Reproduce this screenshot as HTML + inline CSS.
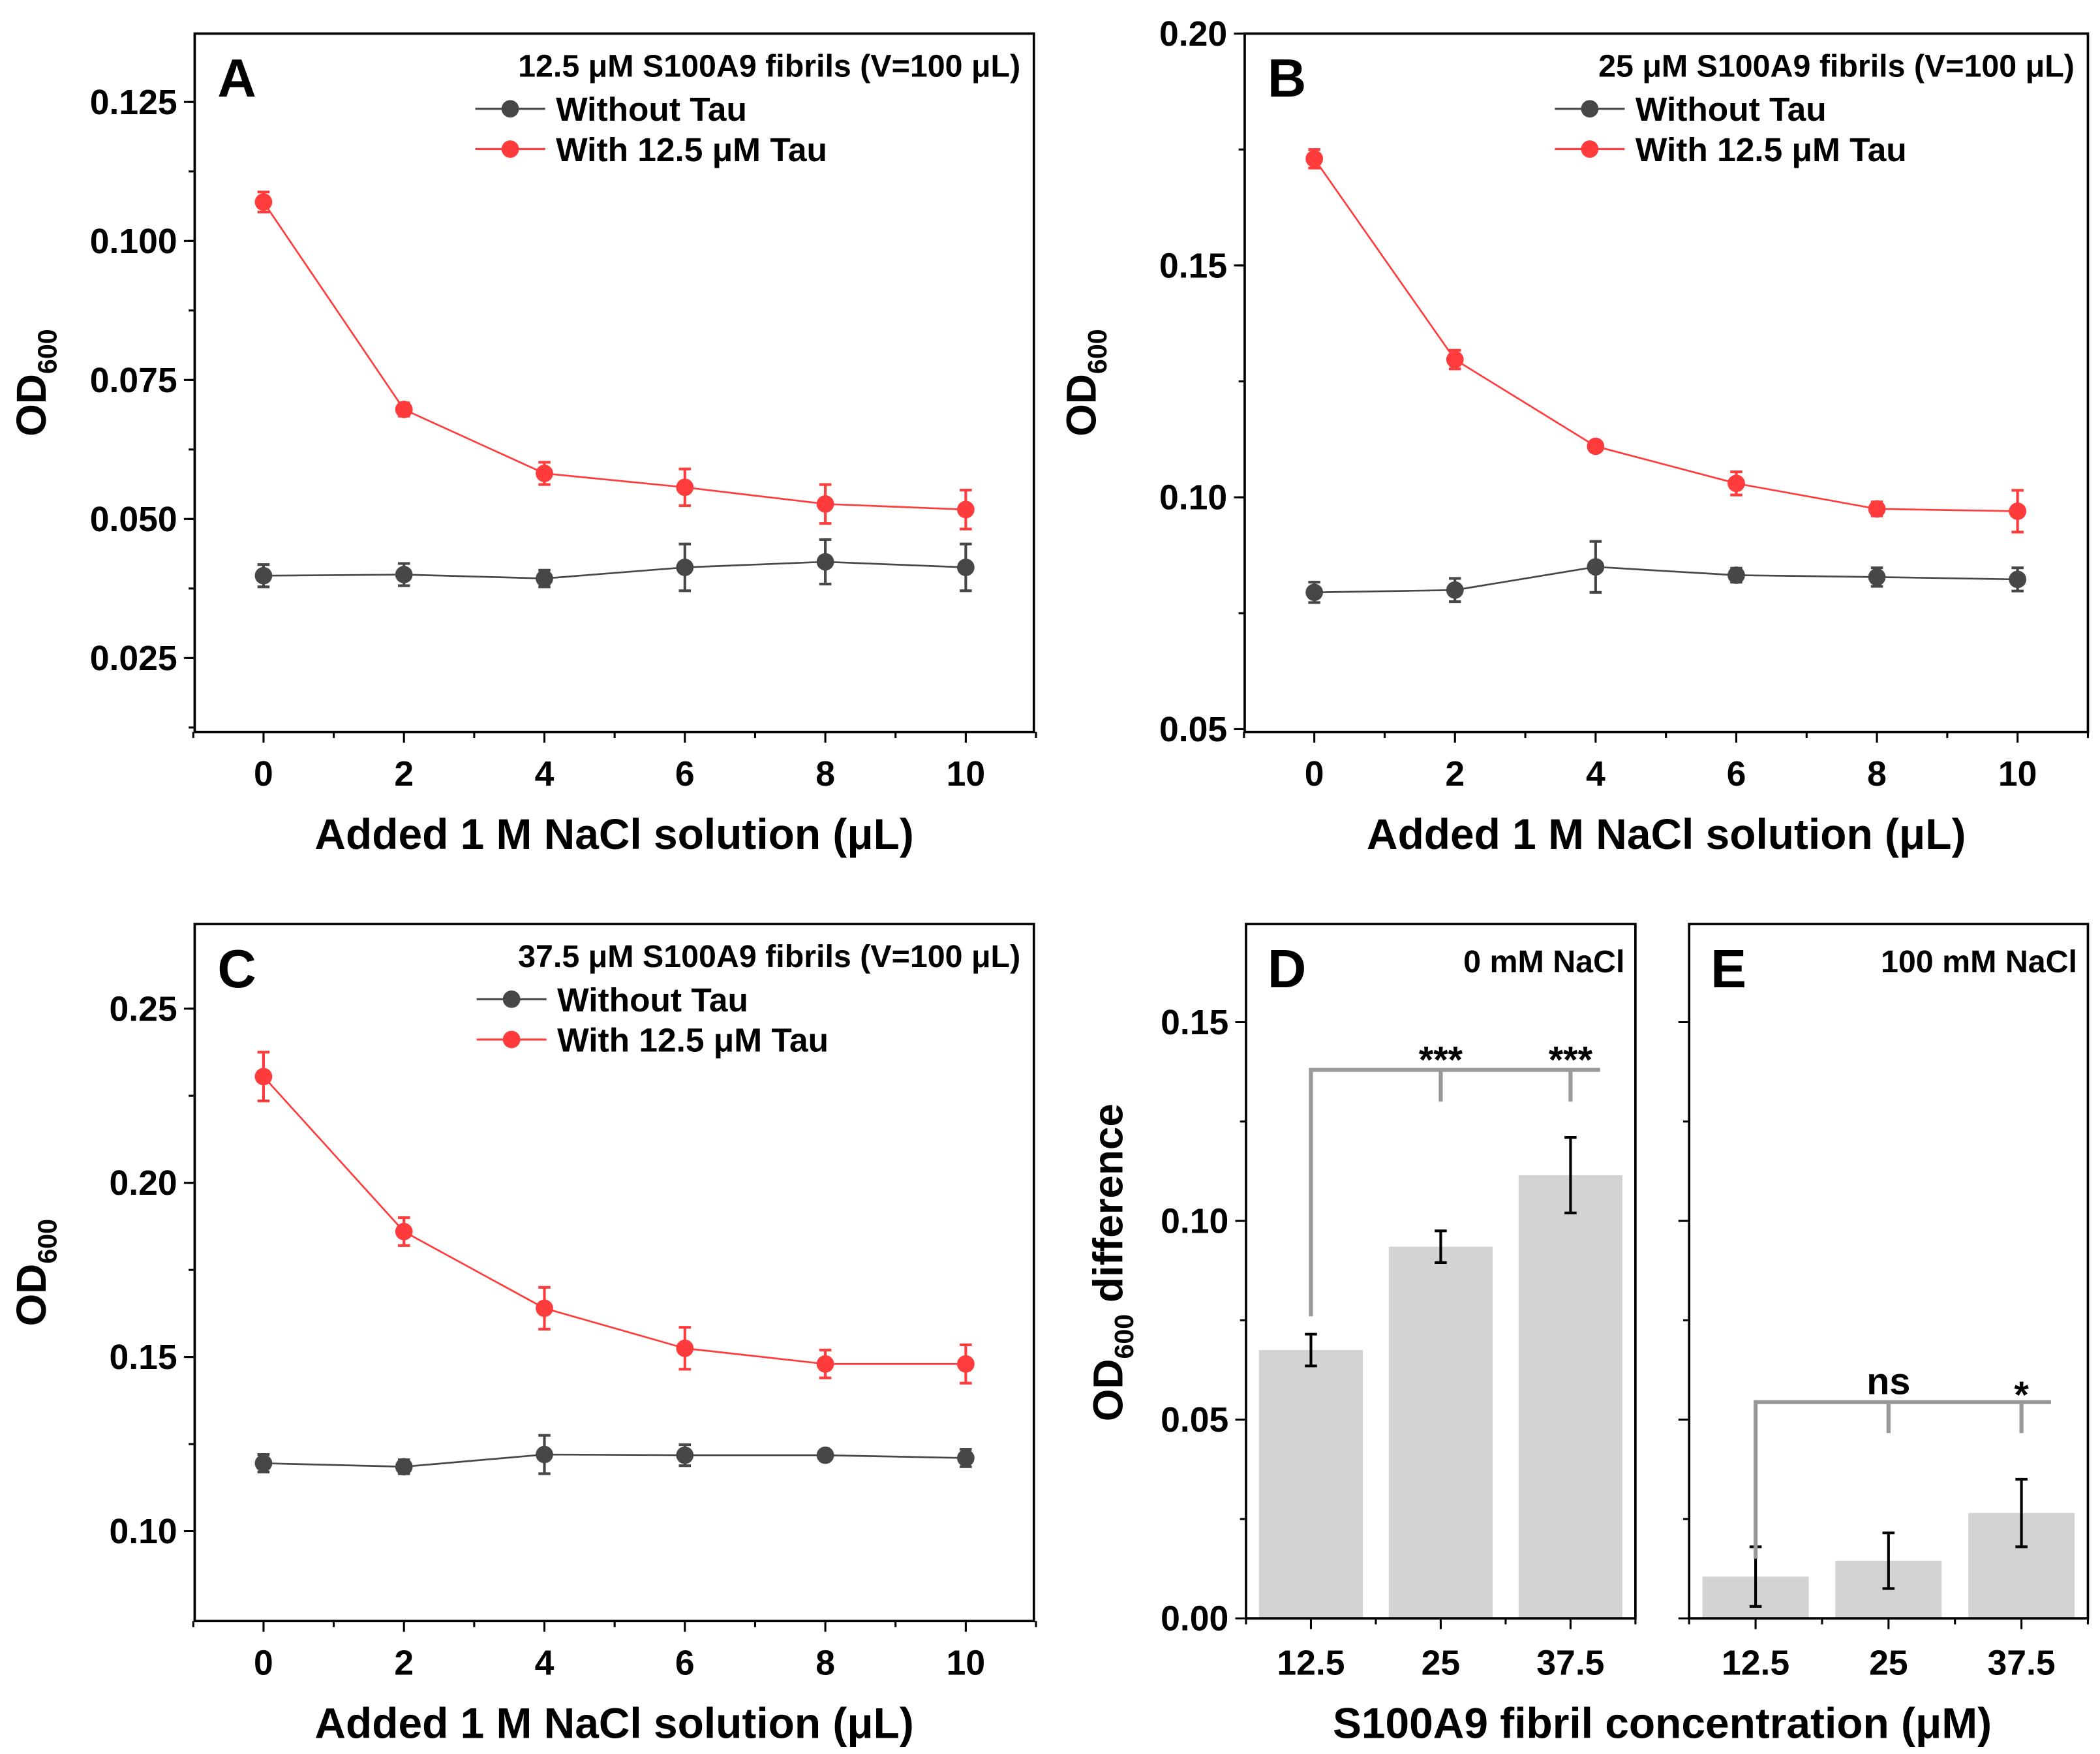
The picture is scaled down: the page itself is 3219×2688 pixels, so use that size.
<!DOCTYPE html>
<html><head><meta charset="utf-8"><style>
html,body{margin:0;padding:0;background:#fff}
svg{display:block}
text{font-family:"Liberation Sans Narrow","Liberation Sans",sans-serif;font-weight:bold;fill:#000}
</style></head><body>
<svg id="fig" xmlns="http://www.w3.org/2000/svg" width="3219" height="2688" viewBox="0 0 1564 1306" preserveAspectRatio="none"></svg>
<script>
// ---- data ----
const xVals = [0, 2, 4, 6, 8, 10];
const aRed = [0.107, 0.0697, 0.0582, 0.0557, 0.0527, 0.0517];
const aRedErr = [0.0018, 0.0012, 0.002, 0.0033, 0.0035, 0.0035];
const aBlack = [0.0398, 0.0400, 0.0393, 0.0413, 0.0423, 0.0413];
const aBlackErr = [0.002, 0.002, 0.0015, 0.0042, 0.004, 0.0042];
const bRed = [0.173, 0.1297, 0.111, 0.103, 0.0975, 0.097];
const bRedErr = [0.002, 0.002, 0.001, 0.0025, 0.0015, 0.0045];
const bBlack = [0.0795, 0.080, 0.085, 0.0832, 0.0828, 0.0823];
const bBlackErr = [0.0022, 0.0025, 0.0055, 0.0015, 0.002, 0.0025];
const cRed = [0.2305, 0.186, 0.164, 0.1525, 0.148, 0.148];
const cRedErr = [0.007, 0.004, 0.006, 0.006, 0.004, 0.0055];
const cBlack = [0.1195, 0.1185, 0.122, 0.1218, 0.1218, 0.121];
const cBlackErr = [0.0025, 0.002, 0.0055, 0.003, 0.001, 0.0025];
const barCats = ["12.5", "25", "37.5"];
const dVals = [0.0675, 0.0935, 0.1115];
const dErr = [0.004, 0.004, 0.0095];
const eVals = [0.0105, 0.0145, 0.0265];
const eErr = [0.0075, 0.007, 0.0085];
const aTicks = ["0.025", "0.050", "0.075", "0.100", "0.125"];
const bTicks = ["0.05", "0.10", "0.15", "0.20"];
const cTicks = ["0.10", "0.15", "0.20", "0.25"];
const dTicks = ["0.00", "0.05", "0.10", "0.15"];
const xTicks = ["0", "2", "4", "6", "8", "10"];

const NS = "http://www.w3.org/2000/svg";
const svg = document.getElementById('fig');
function mk(tag, attrs, parent) {
  const e = document.createElementNS(NS, tag);
  for (const k in attrs) e.setAttribute(k, attrs[k]);
  (parent || svg).appendChild(e);
  return e;
}
function txt(s, x, y, size, anchor, parent, name) {
  const t = mk('text', {x: x, y: y, 'font-size': size, 'text-anchor': anchor || 'middle'}, parent);
  t.textContent = s;
  
  
  return t;
}

function linePanel(o) {
  const g = mk('g', {});
  
  
  const X = v => o.x0 + (v - o.xmin) / (o.xmax - o.xmin) * (o.x1 - o.x0);
  const Y = v => o.y1 - (v - o.ymin) / (o.ymax - o.ymin) * (o.y1 - o.y0);
  o.yTicks.forEach(s => {
    const v = parseFloat(s), y = Y(v);
    mk('line', {x1: o.x0 - 8, x2: o.x0, y1: y, y2: y, stroke: '#000', 'stroke-width': 1.5}, g);
    txt(s, o.x0 - 13, y + 9, 26, 'end', g, 'y-tick-label');
  });
  for (let v = o.yminor0; v < o.ymax; v += o.yminorStep) {
    const y = Y(v);
    if (y < o.y0 || y > o.y1) continue;
    mk('line', {x1: o.x0 - 4.5, x2: o.x0, y1: y, y2: y, stroke: '#000', 'stroke-width': 1.5}, g);
  }
  for (let v = -1; v <= 11; v++) {
    const x = X(v);
    const major = v >= 0 && v <= 10 && v % 2 === 0;
    mk('line', {x1: x, x2: x, y1: o.y1, y2: o.y1 + (major ? 8 : 4.5), stroke: '#000', 'stroke-width': 1.5}, g);
  }
  xTicks.forEach(s => txt(s, X(parseFloat(s)), o.y1 + 40, 26, 'middle', g, 'x-tick-label'));
  [[o.black, o.blackErr, '#474747', 'without-tau'], [o.red, o.redErr, '#ff3b3b', 'with-tau']].forEach(([vals, errs, col, nm]) => {
    const pts = vals.map((v, i) => X(xVals[i]) + ',' + Y(v)).join(' ');
    const pl = mk('polyline', {points: pts, fill: 'none', stroke: col, 'stroke-width': 1.3}, g);
    
    
    vals.forEach((v, i) => {
      const x = X(xVals[i]);
      const e1 = Y(v + errs[i]), e2 = Y(v - errs[i]);
      mk('path', {d: `M${x},${e1}V${e2}M${x - 4.5},${e1}H${x + 4.5}M${x - 4.5},${e2}H${x + 4.5}`, stroke: col, 'stroke-width': 2, fill: 'none'}, g);
      const c = mk('circle', {cx: x, cy: Y(v), r: 6.5, fill: col}, g);
      
      
    });
  });
  mk('rect', {x: o.x0, y: o.y0, width: o.x1 - o.x0, height: o.y1 - o.y0, fill: 'none', stroke: '#000', 'stroke-width': 1.8}, g);
  txt(o.letter, o.x0 + 17, o.y0 + 47, 40, 'start', g, 'panel-letter');
  const lx = o.x0 + o.legX;
  txt(o.legTitle, o.x1 - 10, o.y0 + 32, 23.5, 'end', g, 'legend-title');
  [['Without Tau', '#474747', 64], ['With 12.5 μM Tau', '#ff3b3b', 94]].forEach(([s, col, dy]) => {
    const y = o.y0 + dy - 8;
    mk('line', {x1: lx, x2: lx + 52, y1: y, y2: y, stroke: col, 'stroke-width': 1.5}, g);
    mk('circle', {cx: lx + 26, cy: y, r: 6.5, fill: col}, g);
    txt(s, lx + 60, o.y0 + dy + 1, 25, 'start', g, 'legend-entry');
  });
  txt('Added 1 M NaCl solution (μL)', (o.x0 + o.x1) / 2, o.y1 + 87, 32, 'middle', g, 'x-axis-title');
  const yt = mk('text', {x: 0, y: 0, 'font-size': 31, 'text-anchor': 'middle', transform: `translate(${o.x0 - 111},${(o.y0 + o.y1) / 2}) rotate(-90)`}, g);
  
  
  yt.innerHTML = 'OD<tspan font-size="20" dy="8">600</tspan>';
}

linePanel({name: 'panel-a', letter: 'A', x0: 145, x1: 770, y0: 25, y1: 545, xmin: -0.98, xmax: 10.97, ymin: 0.0117, ymax: 0.1373,
  yTicks: aTicks, yminor0: 0.0125, yminorStep: 0.0125, red: aRed, redErr: aRedErr, black: aBlack, blackErr: aBlackErr,
  legTitle: '12.5 μM S100A9 fibrils (V=100 μL)', legX: 209});
linePanel({name: 'panel-b', letter: 'B', x0: 927, x1: 1555, y0: 25, y1: 545, xmin: -0.99, xmax: 11.0, ymin: 0.0494, ymax: 0.2,
  yTicks: bTicks, yminor0: 0.075, yminorStep: 0.025, red: bRed, redErr: bRedErr, black: bBlack, blackErr: bBlackErr,
  legTitle: '25 μM S100A9 fibrils (V=100 μL)', legX: 231});
linePanel({name: 'panel-c', letter: 'C', x0: 145, x1: 770, y0: 688, y1: 1207, xmin: -0.98, xmax: 10.97, ymin: 0.0742, ymax: 0.2743,
  yTicks: cTicks, yminor0: 0.125, yminorStep: 0.025, red: cRed, redErr: cRedErr, black: cBlack, blackErr: cBlackErr,
  legTitle: '37.5 μM S100A9 fibrils (V=100 μL)', legX: 210});

function barPanel(o) {
  const g = mk('g', {});
  
  
  const step = (o.x1 - o.x0) / 3;
  const X = i => o.x0 + step * (i + 0.5);
  const Y = v => o.y1 - v / o.ymax * (o.y1 - o.y0);
  [0, 0.05, 0.1, 0.15].forEach((v, i) => {
    mk('line', {x1: o.x0 - 8, x2: o.x0, y1: Y(v), y2: Y(v), stroke: '#000', 'stroke-width': 1.5}, g);
    if (o.labels) txt(dTicks[i], o.x0 - 13, Y(v) + 9, 26, 'end', g, 'y-tick-label');
  });
  [0.025, 0.075, 0.125].forEach(v => mk('line', {x1: o.x0 - 4.5, x2: o.x0, y1: Y(v), y2: Y(v), stroke: '#000', 'stroke-width': 1.5}, g));
  for (let k = 0; k <= 3; k++) {
    const x = o.x0 + step * k;
    mk('line', {x1: x, x2: x, y1: o.y1, y2: o.y1 + 4.5, stroke: '#000', 'stroke-width': 1.5}, g);
  }
  o.vals.forEach((v, i) => {
    const x = X(i), bw = step * 0.8;
    const r = mk('rect', {x: x - bw / 2, y: Y(v), width: bw, height: Y(0) - Y(v), fill: '#d3d3d3'}, g);
    
    
    const e1 = Y(v + o.errs[i]), e2 = Y(v - o.errs[i]);
    mk('path', {d: `M${x},${e1}V${e2}M${x - 4.5},${e1}H${x + 4.5}M${x - 4.5},${e2}H${x + 4.5}`, stroke: '#000', 'stroke-width': 2, fill: 'none'}, g);
    mk('line', {x1: x, x2: x, y1: o.y1, y2: o.y1 + 8, stroke: '#000', 'stroke-width': 1.5}, g);
    txt(barCats[i], x, o.y1 + 42, 26, 'middle', g, 'x-tick-label');
  });
  const by = Y(o.bracket), bx0 = X(0), bx1 = X(2) + 22;
  mk('path', {d: `M${bx0},${Y(o.leftDrop)}V${by}H${bx1}M${X(1)},${by}V${Y(o.drop)}M${X(2)},${by}V${Y(o.drop)}`, stroke: '#999', 'stroke-width': 3, fill: 'none'}, g);
  const isNs = o.sig[0] === 'ns';
  txt(o.sig[0], X(1), isNs ? by - 6 : by + 2, 28, 'middle', g, 'significance-label');
  txt(o.sig[1], X(2), isNs ? by + 4 : by + 2, 28, 'middle', g, 'significance-label');
  mk('rect', {x: o.x0, y: o.y0, width: o.x1 - o.x0, height: o.y1 - o.y0, fill: 'none', stroke: '#000', 'stroke-width': 1.8}, g);
  txt(o.letter, o.x0 + 16, o.y0 + 47, 40, 'start', g, 'panel-letter');
  txt(o.title, o.x1 - 8, o.y0 + 36, 23.5, 'end', g, 'panel-title');
}
barPanel({name: 'panel-d', letter: 'D', title: '0 mM NaCl', x0: 928, x1: 1218, y0: 688, y1: 1205, ymax: 0.1747, vals: dVals, errs: dErr,
  labels: true, bracket: 0.138, drop: 0.130, leftDrop: 0.076, sig: ['***', '***']});
barPanel({name: 'panel-e', letter: 'E', title: '100 mM NaCl', x0: 1258, x1: 1555, y0: 688, y1: 1205, ymax: 0.1747, vals: eVals, errs: eErr,
  labels: false, bracket: 0.0544, drop: 0.0466, leftDrop: 0.015, sig: ['ns', '*']});
txt('S100A9 fibril concentration (μM)', 1238, 1294, 32, 'middle', svg, 'x-axis-title');
const dt = mk('text', {x: 0, y: 0, 'font-size': 31, 'text-anchor': 'middle', transform: 'translate(836,940) rotate(-90)'});


dt.innerHTML = 'OD<tspan font-size="20" dy="8">600</tspan><tspan dy="-8"> difference</tspan>';
</script>
</body></html>
